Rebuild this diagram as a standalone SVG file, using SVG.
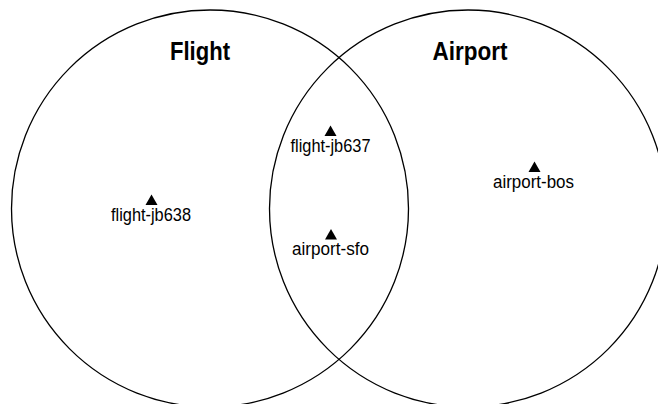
<svg xmlns="http://www.w3.org/2000/svg" width="658" height="404" viewBox="0 0 658 404">
  <style>
    .set { fill: none; stroke: #000; stroke-width: 1.3; }
    .title { font-family: "Liberation Sans Narrow", "Liberation Sans", Arial, sans-serif; font-weight: bold; font-size: 26px; fill: #000; text-anchor: middle; }
    .label { font-family: "Liberation Sans Narrow", "Liberation Sans", Arial, sans-serif; font-size: 17.5px; fill: #000; text-anchor: middle; }
    .mark { fill: #000; }
  </style>
  <rect width="658" height="404" fill="#fff"/>
  <g id="set-flight">
    <circle class="set" cx="210" cy="208.5" r="198.5"/>
    <text class="title" x="200" y="60" textLength="60" lengthAdjust="spacingAndGlyphs">Flight</text>
  </g>
  <g id="set-airport">
    <circle class="set" cx="468" cy="208.5" r="198.5"/>
    <text class="title" x="470" y="60" textLength="75" lengthAdjust="spacingAndGlyphs">Airport</text>
  </g>
  <g id="item-flight-jb638">
    <polygon class="mark" points="151.5,194.5 157.5,205 145.5,205"/>
    <text class="label" x="151" y="221" textLength="80" lengthAdjust="spacingAndGlyphs">flight-jb638</text>
  </g>
  <g id="item-flight-jb637">
    <polygon class="mark" points="330.5,125.5 336.5,136 324.5,136"/>
    <text class="label" x="330.5" y="152" textLength="80" lengthAdjust="spacingAndGlyphs">flight-jb637</text>
  </g>
  <g id="item-airport-sfo">
    <polygon class="mark" points="331,229 337,239.5 325,239.5"/>
    <text class="label" x="330.5" y="255" textLength="77" lengthAdjust="spacingAndGlyphs">airport-sfo</text>
  </g>
  <g id="item-airport-bos">
    <polygon class="mark" points="534.5,161.5 540.5,172 528.5,172"/>
    <text class="label" x="533.5" y="187.5" textLength="81" lengthAdjust="spacingAndGlyphs">airport-bos</text>
  </g>
</svg>
